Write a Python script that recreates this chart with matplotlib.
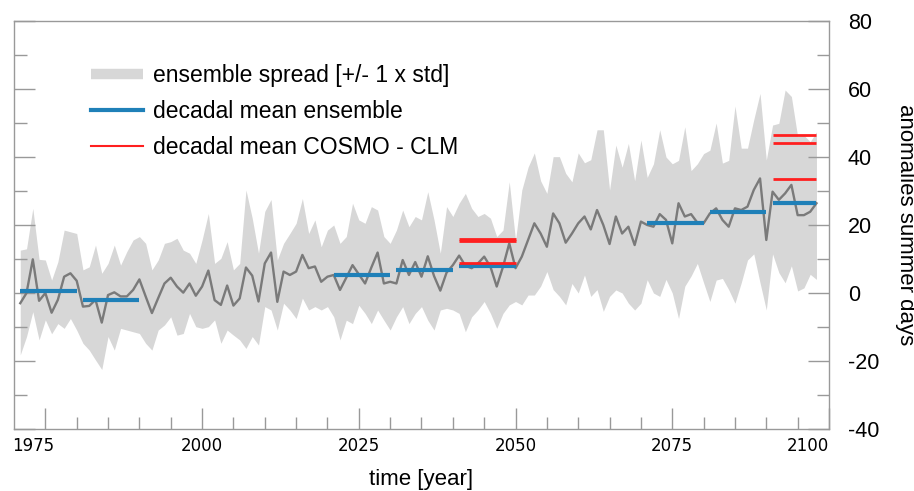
import matplotlib.pyplot as plt
from matplotlib.lines import Line2D
from matplotlib.transforms import ScaledTranslation

plt.rcParams["font.family"] = ["Liberation Sans", "DejaVu Sans"]
plt.rcParams["axes.unicode_minus"] = False

years = list(range(1971, 2099))

# annual ensemble mean (grey line)
ens_mean = [
    -3, 0, 9.9, -2.3, 0, -5.8, -2, 4.8, 5.8, 3.6,
    -4, -3.8, -2, -8.7, -0.6, 0.2, -1, -1, 0.9, 4,
    -1, -5.9, -1.5, 2.8, 4.5, 1.9, 0.1, 2.8, -0.8, 1.9,
    6.6, -2.1, -3.5, 2.2, -3.7, -1.6, 7.5, 5.1, -2.5, 8.7,
    11.9, -2.6, 6.3, 5.3, 6.3, 11.2, 7.3, 7.8, 3.3, 4.8,
    5.3, 0.9, 4.5, 8.2, 5.5, 2.8, 7.5, 11.9, 2.8, 3.3,
    2.8, 9.7, 5.3, 9.1, 4.8, 10.8, 5, 0.7, 6, 8.2,
    11, 8, 7.3, 8.7, 10.7, 7.7, 1.9, 7.7, 14.6, 7.3,
    10.7, 15.6, 20.5, 17.5, 13.6, 23.4, 20.5, 14.8, 17.5, 20.5,
    22.5, 18.7, 24.4, 20, 14.4, 22.5, 17.5, 19.5, 14.1, 21,
    20, 19.5, 23.2, 21.5, 14.6, 26.4, 22.5, 23.2, 20.7, 20.5,
    23.4, 24.9, 21.5, 19.5, 24.9, 24.4, 25.4, 30.3, 33.7, 15.6,
    29.8, 27.4, 29.3, 31.8, 22.9, 22.9, 23.9, 26.4,
]

# ensemble spread, mean +/- 1 std
ens_upper = [
    12.6, 13, 24.9, 9.9, 9.7, 3.8, 9.2, 18.5, 18, 17.5,
    6.8, 7.7, 14.1, 5.8, 8.7, 14.1, 8.2, 12.2, 15.6, 16.6,
    14.6, 6.8, 9.7, 14.6, 15.1, 16.1, 12.6, 11.7, 8.7, 15.6,
    23.4, 8.7, 10.2, 15.1, 6.8, 8.7, 30.3, 22, 11.7, 24,
    27.5, 9.7, 14.6, 17.5, 20.5, 27.8, 17.5, 21.5, 13.6, 18.5,
    20, 14.6, 16.6, 26.4, 21.5, 20.5, 25.4, 24.4, 16.6, 14.6,
    18.5, 24.4, 19.5, 22.5, 21.5, 29.8, 21.5, 11.7, 25.4, 22.5,
    26.4, 29.3, 24.9, 22.5, 23.4, 22, 16.6, 18.5, 32.7, 15.5,
    30.3, 37, 41.2, 33, 29.3, 40.1, 40.1, 35.2, 32.7, 41.2,
    38.3, 39.2, 48, 48, 30.3, 43.5, 37, 44, 33, 45,
    34, 38, 48, 40, 38, 39, 48.9, 36, 38, 41,
    42, 50, 38.2, 39, 55, 42.6, 42.6, 51, 58.7, 39.1,
    49.4, 49.9, 59.7, 57.8, 46, 46.4, 44.5, 47.4,
]
ens_lower = [
    -18.2, -12.8, -5.5, -13.8, -7.9, -12, -9, -10.4, -7.5, -10.9,
    -14.8, -16.8, -19.7, -22.5, -12.8, -16.8, -10.4, -10.9, -11.4, -11.9,
    -14.8, -16.8, -10.9, -9.4, -7, -12.4, -11.9, -6, -9.9, -10.4,
    -9.9, -7.9, -14.8, -10.9, -12.4, -13.8, -16.3, -12.8, -15.3, -4,
    -5, -10.9, -3, -5, -7.5, -1.5, -5, -4, -5, -4,
    -7, -13.8, -8, -9, -3.6, -6, -9, -5, -8, -10.9,
    -7, -4, -9, -6, -4, -8, -10.9, -5, -4.5, -5,
    -6, -11.4, -7, -5, -2.5, -6, -10.4, -6, -3.5, -2.5,
    -3.5, -0.6, -0.6, 2, 6.3, 1, -1, -3.5, 2.8, 0,
    5.3, -1, 1, -5.4, -1, 0.9, 0, -3, -5, -3,
    3.9, 0, -1, 4, 0, -7.5, 2, 5, 8.7, 3,
    -2.5, 3.8, 4.3, 1, -3, 3, 9.7, 11.5, 3, -5,
    11.5, 6, 3, 8, 0.6, 1.5, 5.5, 4,
]

# decadal means of the ensemble
dec_start = [1971, 1981, 2021, 2031, 2041, 2071, 2081, 2091]
dec_end = [1980, 1990, 2030, 2040, 2050, 2080, 2090, 2098]
dec_ens = [0.7, -2.2, 5.3, 6.8, 8.0, 20.7, 23.7, 26.4]

# decadal means COSMO-CLM runs
clm_start = [2041, 2041, 2041, 2091, 2091, 2091]
clm_end = [2050, 2050, 2050, 2098, 2098, 2098]
clm_mean = [15.3, 15.9, 8.7, 46.5, 44.0, 33.5]

year_ticks = [1975, 2000, 2025, 2050, 2075, 2100]

BAND = "#d7d7d7"
GREY = "#7a7a7a"
BLUE = "#1f80b8"
RED = "#ff1f1f"
AXC = "#999999"

fig = plt.figure(figsize=(9.14, 4.91), dpi=100)
ax = fig.add_axes([14 / 914, 62 / 491, 815 / 914, 408 / 491])

ax.fill_between(years, ens_lower, ens_upper, color=BAND, lw=0)
ax.plot(years, ens_mean, color=GREY, lw=1.7)
ax.hlines(dec_ens, dec_start, dec_end, color=BLUE, lw=3)
ax.hlines(clm_mean, clm_start, clm_end, color=RED, lw=2)

ax.set_xlim(1970, 2100)
ax.set_ylim(-40, 80)
ax.set_xticks(year_ticks)
ax.set_xticks(range(1975, 2100, 5), minor=True)
ax.yaxis.tick_right()
ax.set_yticks(range(-40, 81, 20))
ax.set_yticks(range(-30, 80, 20), minor=True)

ax.tick_params(which="both", direction="in", color=AXC, width=1)
ax.tick_params(which="major", length=15)
ax.tick_params(which="minor", length=9)
ax.tick_params(axis="y", which="both", left=True, right=True,
               labelleft=False, labelright=True)
ax.tick_params(axis="y", labelsize=15.5, pad=13.5)
ax.tick_params(axis="x", labelsize=12, pad=6)
for sp in ax.spines.values():
    sp.set_color(AXC)
    sp.set_linewidth(1)

xlabs = ax.get_xticklabels()
for lab in xlabs:
    lab.set_fontfamily("DejaVu Sans")
xlabs[0].set_transform(xlabs[0].get_transform()
                       + ScaledTranslation(-0.12, 0, fig.dpi_scale_trans))
xlabs[-1].set_horizontalalignment("right")

ax.set_xlabel("time [year]", fontsize=16, va="center")
ax.xaxis.set_label_coords(0.5, -0.125)
ax.yaxis.set_label_position("right")
ax.set_ylabel("anomalies summer days", fontsize=16, rotation=270,
              va="center", ha="center")
ax.yaxis.set_label_coords(1.0933, 0.5)

handles = [
    Line2D([], [], color=BAND, lw=7.5, solid_capstyle="butt"),
    Line2D([], [], color=BLUE, lw=3),
    Line2D([], [], color=RED, lw=1.5),
]
names = ["ensemble spread [+/- 1 x std]", "decadal mean ensemble",
         "decadal mean COSMO - CLM"]
ax.legend(handles, names, loc="upper left", bbox_to_anchor=(0.0945, 0.894),
          frameon=False, fontsize=16.5, handlelength=2.25, handletextpad=0.45,
          labelspacing=0.56, borderpad=0, borderaxespad=0)

fig.savefig("out.png", dpi=100)
